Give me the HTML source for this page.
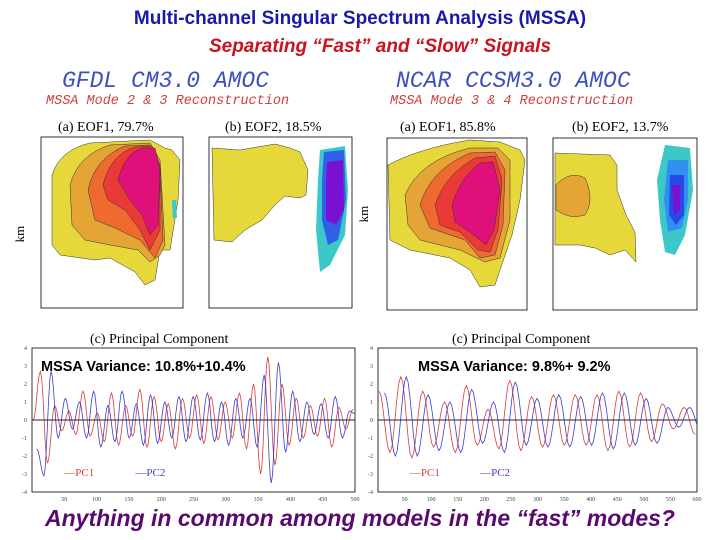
<!DOCTYPE html>
<html><head><meta charset="utf-8"><style>
body{margin:0;background:#fff}
#root{position:relative;width:720px;height:540px;overflow:hidden;background:#fff;font-family:"Liberation Sans",sans-serif}
.t{position:absolute;white-space:nowrap}
</style></head><body>
<div id="root">
<div class="t" style="left:0;width:720px;text-align:center;top:8px;font-size:19px;font-weight:bold;color:#1a1aa8">Multi-channel Singular Spectrum Analysis (MSSA)</div>
<div class="t" style="left:0;width:760px;text-align:center;top:36px;font-size:19px;font-weight:bold;font-style:italic;color:#c8141e">Separating “Fast” and “Slow” Signals</div>
<div class="t" style="left:62px;top:68px;font-family:'Liberation Mono',monospace;font-style:italic;font-size:23px;color:#3c50c0">GFDL CM3.0 AMOC</div>
<div class="t" style="left:46px;top:94px;font-family:'Liberation Mono',monospace;font-style:italic;font-size:13.5px;color:#d04040">MSSA Mode 2 &amp; 3 Reconstruction</div>
<div class="t" style="left:396px;top:68px;font-family:'Liberation Mono',monospace;font-style:italic;font-size:23px;color:#3c50c0">NCAR CCSM3.0 AMOC</div>
<div class="t" style="left:390px;top:94px;font-family:'Liberation Mono',monospace;font-style:italic;font-size:13.5px;color:#d04040">MSSA Mode 3 &amp; 4 Reconstruction</div>

<svg width="720" height="540" style="position:absolute;left:0;top:0" font-family="Liberation Serif, serif">
 <g>
  <text x="58" y="131" font-size="14">(a) EOF1, 79.7%</text>
  <text x="24" y="234" font-size="13" transform="rotate(-90 24 234)" text-anchor="middle">km</text>
  <rect x="41" y="137" width="142" height="171" fill="none" stroke="#000" stroke-width="0.8"/>
  <path d="M52,175 Q60,150 90,143 L150,140 L165,148 L172,150 L180,160 L178,200 L170,250 L160,250 L155,280 L145,285 L135,272 L110,258 L95,260 L60,255 L52,245 Z" fill="#e6d83a" stroke="#333" stroke-width="0.5"/>
  <path d="M70,185 Q78,155 110,145 L150,143 L160,160 L165,245 L160,255 L150,262 L138,250 L110,245 L85,240 L72,225 Z" fill="#e4a436" stroke="#333" stroke-width="0.5"/>
  <path d="M88,190 Q95,158 125,146 L150,145 L160,165 L163,240 L155,258 L140,240 L115,228 L95,220 Z" fill="#ee6a2e" stroke="#333" stroke-width="0.5"/>
  <path d="M103,185 Q110,155 135,147 L152,146 L160,165 L160,230 L150,250 L140,230 L125,210 L108,200 Z" fill="#ea3a38" stroke="#333" stroke-width="0.5"/>
  <path d="M118,180 Q125,153 142,148 L155,148 L160,170 L158,225 L150,235 L142,215 L130,200 Z" fill="#e0107a" stroke="#333" stroke-width="0.5"/>
  <path d="M172,200 L176,200 L177,218 L173,218 Z" fill="#3cc8c8"/>
 </g>
 <g>
  <text x="225" y="131" font-size="14">(b) EOF2, 18.5%</text>
  <rect x="209" y="137" width="143" height="171" fill="none" stroke="#000" stroke-width="0.8"/>
  <path d="M212,148 L240,150 L275,144 L290,148 L300,152 L308,170 L306,195 L300,198 L285,196 L275,205 L262,220 L245,230 L232,242 L214,240 Z" fill="#e6d83a" stroke="#333" stroke-width="0.5"/>
  <path d="M320,150 L345,146 L348,190 L345,235 L330,265 L320,272 L316,230 L318,180 Z" fill="#3cc8c8"/>
  <path d="M324,152 L344,150 L346,200 L338,240 L328,245 L322,220 L322,180 Z" fill="#3060e8"/>
  <path d="M327,162 L343,160 L344,210 L336,225 L326,220 L326,185 Z" fill="#7a10d0"/>
 </g>
 <g>
  <text x="400" y="131" font-size="14">(a) EOF1, 85.8%</text>
  <text x="368" y="214" font-size="13" transform="rotate(-90 368 214)" text-anchor="middle">km</text>
  <rect x="387" y="138" width="140" height="172" fill="none" stroke="#000" stroke-width="0.8"/>
  <path d="M388,165 Q420,148 470,140 L500,142 L520,150 L525,160 L520,200 L512,235 L500,270 L495,285 L480,287 L470,270 L450,258 L410,250 L390,240 Z" fill="#e6d83a" stroke="#333" stroke-width="0.5"/>
  <path d="M405,195 Q420,160 470,148 L498,148 L510,160 L510,220 L500,258 L485,262 L460,250 L420,240 L408,225 Z" fill="#e4a436" stroke="#333" stroke-width="0.5"/>
  <path d="M420,205 Q430,170 470,153 L495,152 L505,170 L503,225 L495,255 L480,258 L465,240 L430,228 Z" fill="#ee6a2e" stroke="#333" stroke-width="0.5"/>
  <path d="M435,205 Q445,175 475,158 L495,156 L502,180 L498,230 L490,252 L478,250 L460,232 L440,225 Z" fill="#ea3a38" stroke="#333" stroke-width="0.5"/>
  <path d="M452,205 Q460,178 480,163 L493,162 L500,190 L494,230 L486,245 L470,232 L455,222 Z" fill="#e0107a" stroke="#333" stroke-width="0.5"/>
 </g>
 <g>
  <text x="572" y="131" font-size="14">(b) EOF2, 13.7%</text>
  <rect x="553" y="138" width="144" height="172" fill="none" stroke="#000" stroke-width="0.8"/>
  <path d="M555,153 L610,155 L617,165 L617,190 L626,215 L635,232 L636,262 L625,250 L610,255 L595,248 L580,245 L555,245 Z" fill="#e6d83a" stroke="#333" stroke-width="0.5"/>
  <path d="M556,185 Q570,170 585,178 Q595,200 585,215 Q570,220 556,210 Z" fill="#e4a436" stroke="#333" stroke-width="0.5"/>
  <path d="M665,145 L690,148 L693,190 L685,235 L675,255 L665,252 L660,220 L657,180 Z" fill="#3cc8c8"/>
  <path d="M668,160 L688,160 L688,200 L682,228 L668,232 L664,200 Z" fill="#3090f0"/>
  <path d="M670,175 L684,175 L684,215 L676,225 L669,215 Z" fill="#2848e8"/>
  <path d="M672,185 L680,185 L680,210 L674,215 Z" fill="#7a10d0"/>
 </g>
 <text x="90" y="343" font-size="14">(c) Principal Component</text>
 <text x="452" y="343" font-size="14">(c) Principal Component</text>
</svg>

<svg id="pcs" width="720" height="540" style="position:absolute;left:0;top:0" font-family="Liberation Serif, serif"></svg>

<div class="t" style="left:41px;top:359px;font-size:14.5px;font-weight:bold;color:#000">MSSA Variance: 10.8%+10.4%</div>
<div class="t" style="left:418px;top:359px;font-size:14.5px;font-weight:bold;color:#000">MSSA Variance: 9.8%+ 9.2%</div>
<div class="t" style="left:0;width:720px;text-align:center;top:505px;font-size:23px;font-weight:bold;font-style:italic;color:#5a0a6e">Anything in common among models in the “fast” modes?</div>
</div>
<script>
const gfdlPC1=[0,2.7,-2.4,0.8,-0.6,0.5,-0.8,1.6,-0.9,0.4,-1.2,1.5,-1.4,0.8,-0.9,1.7,-1.5,1.3,-1.2,0.9,-1.6,1.2,-1.0,1.4,-1.3,1.3,-1.1,1.0,-1.0,1.5,-1.6,2.0,-3.0,3.5,-2.5,2.0,-1.4,1.2,-1.0,0.8,-0.9,1.2,-1.5,0.7,-0.5,0.6];
const gfdlPC2=[-1.6,-3.1,2.7,-1.0,1.2,-0.5,1.0,-1.0,1.6,-1.5,0.8,-1.2,1.6,-1.0,0.9,-1.4,1.4,-1.3,1.0,-1.0,1.3,-1.2,1.3,-1.1,1.5,-1.2,1.0,-1.4,1.2,-1.0,1.2,-1.5,2.5,-3.5,3.2,-1.8,1.6,-1.2,1.0,-0.8,0.9,-1.0,1.3,-1.0,0.5,0.3];
const ncarPC1=[1.6,-1.8,2.4,-2.1,1.6,-1.5,1.0,-1.8,1.9,-1.4,0.6,-1.6,2.2,-1.7,1.3,-1.5,1.4,-1.4,1.4,-1.4,1.4,-1.7,1.6,-1.5,1.5,-1.2,0.9,-0.5,0.7,-0.8];
const ncarPC2=[1.5,-2.0,2.4,-2.0,1.4,-1.7,1.0,-1.8,1.7,-1.3,1.0,-1.8,2.1,-1.4,1.2,-1.5,1.4,-1.5,1.3,-1.4,1.5,-1.6,1.5,-1.4,1.2,-1.3,0.7,-0.4,0.7,-0.6];
const gfdlXTicks=[50,100,150,200,250,300,350,400,450,500];
const ncarXTicks=[50,100,150,200,250,300,350,400,450,500,550,600];
const yTicks=[-4,-3,-2,-1,0,1,2,3,4];
const NS='http://www.w3.org/2000/svg';
const svg=document.getElementById('pcs');
function mk(tag,attrs,parent){const e=document.createElementNS(NS,tag);for(const k in attrs)e.setAttribute(k,attrs[k]);(parent||svg).appendChild(e);return e;}
function panel(name,x0,x1,y0,y1,xmax,ticks,s1,s2,t0,step){
 const g=mk('g',{});
 
 
 const X=v=>x0+v/xmax*(x1-x0), Y=v=>y0+(4-v)/8*(y1-y0);
 const fr=mk('rect',{x:x0,y:y0,width:x1-x0,height:y1-y0,fill:'none',stroke:'#000','stroke-width':0.8},g);
 
 
 yTicks.forEach(v=>{const t=mk('text',{x:x0-5,y:Y(v)+2,'font-size':6,'text-anchor':'end',fill:'#444'},g);t.textContent=v;
  
  });
 ticks.forEach(v=>{const t=mk('text',{x:X(v),y:y1+9,'font-size':6,'text-anchor':'middle',fill:'#444'},g);t.textContent=v;
  
  });
 [[s1,'#d83c3c','pc1-line'],[s2,'#3c3cd0','pc2-line']].forEach(([s,c,n],k)=>{
  let d='';const off=k?step*0.5:0;
  for(let i=0;i<s.length-1;i++){const ta=t0+off+i*step;for(let j=0;j<=6;j++){const f=j/6;const w=(1-Math.cos(Math.PI*f))/2;const t=ta+f*step;if(t>xmax)break;const v=s[i]*(1-w)+s[i+1]*w;d+=(d?'L':'M')+X(t).toFixed(1)+','+Y(v).toFixed(1);}}
  const p=mk('path',{d:d,fill:'none',stroke:c,'stroke-width':0.8},g);
  
  
 });
 const z=mk('line',{x1:x0,x2:x1,y1:Y(0),y2:Y(0),stroke:'#223','stroke-width':1},g);
 
 
 const l1=mk('text',{x:x0+0.1*(x1-x0),y:Y(-3.1),'font-size':11,fill:'#d83c3c'},g);l1.textContent='—PC1';
 
 
 const l2=mk('text',{x:x0+0.32*(x1-x0),y:Y(-3.1),'font-size':11,fill:'#3c3cd0'},g);l2.textContent='—PC2';
 
 
}
panel('gfdl-pc-chart',32,355,348,492,500,gfdlXTicks,gfdlPC1,gfdlPC2,2,11);
panel('ncar-pc-chart',378,697,348,492,600,ncarXTicks,ncarPC1,ncarPC2,2,20.5);
</script>
</body></html>
